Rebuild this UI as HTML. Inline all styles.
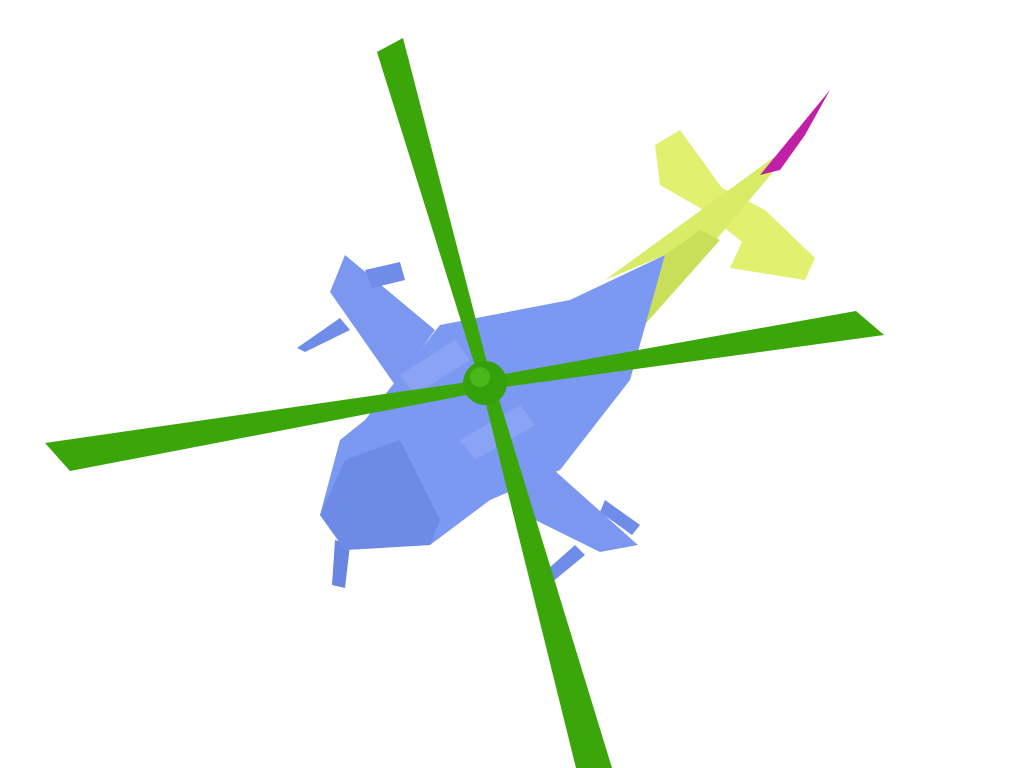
<!DOCTYPE html>
<html>
<head>
<meta charset="utf-8">
<style>
html,body{margin:0;padding:0;background:#fff;width:1024px;height:768px;overflow:hidden;}
svg{display:block;}
</style>
</head>
<body>
<svg width="1024" height="768" viewBox="0 0 1024 768">
  <!-- tail boom and tail fin -->
  <polygon points="655,145 680,130 722,188 765,210 815,258 805,280 730,268 742,242 700,208 660,185" fill="#e2f070"/>
  <polygon points="605,280 665,255 640,330 800,140 770,160" fill="#d8ec68"/>
  <polygon points="665,255 640,330 720,240 700,230" fill="#c9df5a"/>
  <polygon points="760,175 830,90 805,135 780,170" fill="#c020a8"/>
  <!-- wings -->
  <polygon points="345,255 435,330 395,385 330,292" fill="#7b97f0"/>
  <polygon points="500,455 545,462 638,545 600,552 515,510" fill="#7b97f0"/>
  <!-- weapon pods -->
  <polygon points="365,270 400,262 405,280 372,288" fill="#6f8ce8"/>
  <polygon points="297,348 340,318 350,330 305,352" fill="#6f8ce8"/>
  <polygon points="605,500 640,525 632,535 600,512" fill="#6f8ce8"/>
  <polygon points="530,585 575,545 585,555 545,588" fill="#6f8ce8"/>
  <polygon points="335,540 350,545 345,588 332,585" fill="#6a86e0"/>
  <!-- fuselage -->
  <polygon points="320,515 345,550 430,545 490,500 560,470 630,380 665,255 570,300 440,325 365,420 340,440" fill="#7b98f2"/>
  <polygon points="345,460 400,440 440,520 430,545 345,550 320,515" fill="#6d8ae6"/>
  <polygon points="400,375 455,340 470,360 415,395" fill="#8aa3f4"/>
  <polygon points="460,440 520,405 535,425 475,460" fill="#8aa3f4"/>
  <!-- rotor blades -->
  <polygon points="480,382 492,382 403,38 377,52" fill="#3aa60a"/>
  <polygon points="488,377 490,389 884,335 856,311" fill="#3aa60a"/>
  <polygon points="482,380 482,392 70,471 45,443" fill="#3aa60a"/>
  <polygon points="482,388 495,386 612,768 576,768" fill="#3aa60a"/>
  <circle cx="485" cy="383" r="22" fill="#34a00a"/>
  <circle cx="480" cy="377" r="10" fill="#48b818"/>
</svg>
</body>
</html>
